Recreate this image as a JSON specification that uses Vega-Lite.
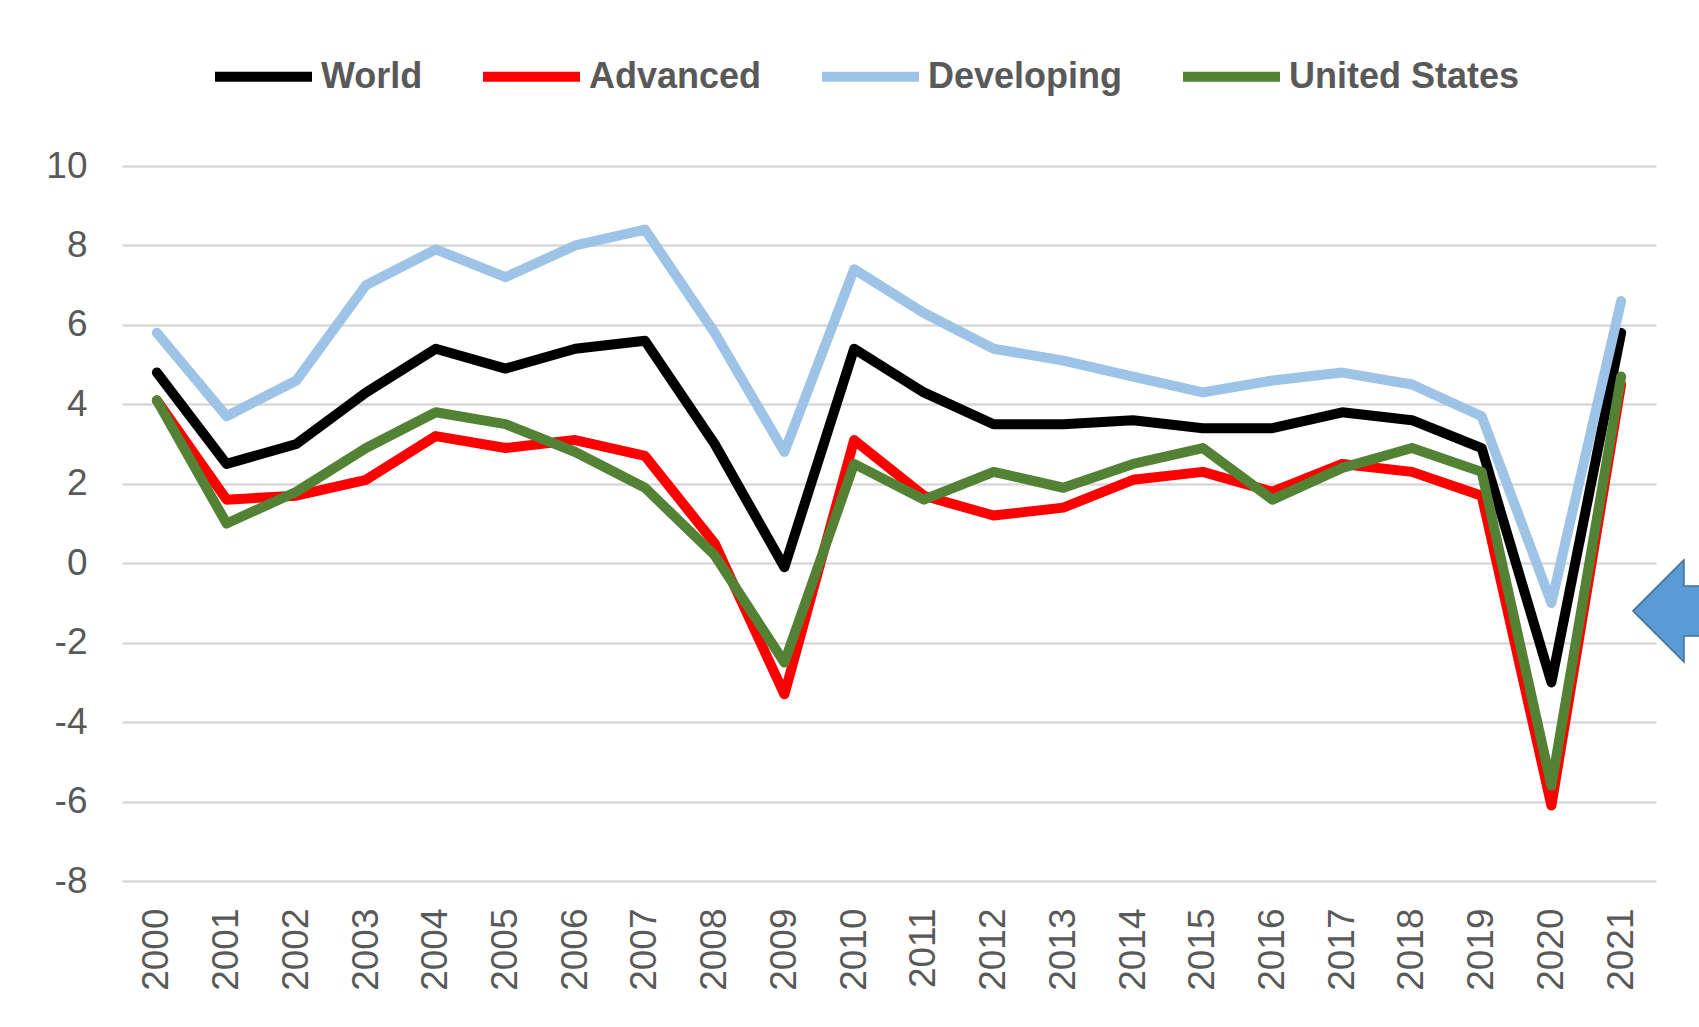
{
  "$schema": "https://vega.github.io/schema/vega-lite/v6.json",
  "width": 1534,
  "height": 715,
  "autosize": "none",
  "padding": {"left": 122, "top": 166, "right": 43, "bottom": 146},
  "background": "white",
  "config": {
    "view": {"stroke": null},
    "font": "Liberation Sans",
    "axis": {"labelColor": "#595959", "labelFont": "Liberation Sans", "labelFontSize": 37, "domain": false, "ticks": false, "title": null}
  },
  "datasets": {
    "growth": [
      {"year": 2000, "series": "World", "value": 4.8},
      {"year": 2001, "series": "World", "value": 2.5},
      {"year": 2002, "series": "World", "value": 3.0},
      {"year": 2003, "series": "World", "value": 4.3},
      {"year": 2004, "series": "World", "value": 5.4},
      {"year": 2005, "series": "World", "value": 4.9},
      {"year": 2006, "series": "World", "value": 5.4},
      {"year": 2007, "series": "World", "value": 5.6},
      {"year": 2008, "series": "World", "value": 3.0},
      {"year": 2009, "series": "World", "value": -0.1},
      {"year": 2010, "series": "World", "value": 5.4},
      {"year": 2011, "series": "World", "value": 4.3},
      {"year": 2012, "series": "World", "value": 3.5},
      {"year": 2013, "series": "World", "value": 3.5},
      {"year": 2014, "series": "World", "value": 3.6},
      {"year": 2015, "series": "World", "value": 3.4},
      {"year": 2016, "series": "World", "value": 3.4},
      {"year": 2017, "series": "World", "value": 3.8},
      {"year": 2018, "series": "World", "value": 3.6},
      {"year": 2019, "series": "World", "value": 2.9},
      {"year": 2020, "series": "World", "value": -3.0},
      {"year": 2021, "series": "World", "value": 5.8},
      {"year": 2000, "series": "Advanced", "value": 4.1},
      {"year": 2001, "series": "Advanced", "value": 1.6},
      {"year": 2002, "series": "Advanced", "value": 1.7},
      {"year": 2003, "series": "Advanced", "value": 2.1},
      {"year": 2004, "series": "Advanced", "value": 3.2},
      {"year": 2005, "series": "Advanced", "value": 2.9},
      {"year": 2006, "series": "Advanced", "value": 3.1},
      {"year": 2007, "series": "Advanced", "value": 2.7},
      {"year": 2008, "series": "Advanced", "value": 0.5},
      {"year": 2009, "series": "Advanced", "value": -3.3},
      {"year": 2010, "series": "Advanced", "value": 3.1},
      {"year": 2011, "series": "Advanced", "value": 1.7},
      {"year": 2012, "series": "Advanced", "value": 1.2},
      {"year": 2013, "series": "Advanced", "value": 1.4},
      {"year": 2014, "series": "Advanced", "value": 2.1},
      {"year": 2015, "series": "Advanced", "value": 2.3},
      {"year": 2016, "series": "Advanced", "value": 1.8},
      {"year": 2017, "series": "Advanced", "value": 2.5},
      {"year": 2018, "series": "Advanced", "value": 2.3},
      {"year": 2019, "series": "Advanced", "value": 1.7},
      {"year": 2020, "series": "Advanced", "value": -6.1},
      {"year": 2021, "series": "Advanced", "value": 4.5},
      {"year": 2000, "series": "Developing", "value": 5.8},
      {"year": 2001, "series": "Developing", "value": 3.7},
      {"year": 2002, "series": "Developing", "value": 4.6},
      {"year": 2003, "series": "Developing", "value": 7.0},
      {"year": 2004, "series": "Developing", "value": 7.9},
      {"year": 2005, "series": "Developing", "value": 7.2},
      {"year": 2006, "series": "Developing", "value": 8.0},
      {"year": 2007, "series": "Developing", "value": 8.4},
      {"year": 2008, "series": "Developing", "value": 5.8},
      {"year": 2009, "series": "Developing", "value": 2.8},
      {"year": 2010, "series": "Developing", "value": 7.4},
      {"year": 2011, "series": "Developing", "value": 6.3},
      {"year": 2012, "series": "Developing", "value": 5.4},
      {"year": 2013, "series": "Developing", "value": 5.1},
      {"year": 2014, "series": "Developing", "value": 4.7},
      {"year": 2015, "series": "Developing", "value": 4.3},
      {"year": 2016, "series": "Developing", "value": 4.6},
      {"year": 2017, "series": "Developing", "value": 4.8},
      {"year": 2018, "series": "Developing", "value": 4.5},
      {"year": 2019, "series": "Developing", "value": 3.7},
      {"year": 2020, "series": "Developing", "value": -1.0},
      {"year": 2021, "series": "Developing", "value": 6.6},
      {"year": 2000, "series": "United States", "value": 4.1},
      {"year": 2001, "series": "United States", "value": 1.0},
      {"year": 2002, "series": "United States", "value": 1.8},
      {"year": 2003, "series": "United States", "value": 2.9},
      {"year": 2004, "series": "United States", "value": 3.8},
      {"year": 2005, "series": "United States", "value": 3.5},
      {"year": 2006, "series": "United States", "value": 2.8},
      {"year": 2007, "series": "United States", "value": 1.9},
      {"year": 2008, "series": "United States", "value": 0.2},
      {"year": 2009, "series": "United States", "value": -2.5},
      {"year": 2010, "series": "United States", "value": 2.5},
      {"year": 2011, "series": "United States", "value": 1.6},
      {"year": 2012, "series": "United States", "value": 2.3},
      {"year": 2013, "series": "United States", "value": 1.9},
      {"year": 2014, "series": "United States", "value": 2.5},
      {"year": 2015, "series": "United States", "value": 2.9},
      {"year": 2016, "series": "United States", "value": 1.6},
      {"year": 2017, "series": "United States", "value": 2.4},
      {"year": 2018, "series": "United States", "value": 2.9},
      {"year": 2019, "series": "United States", "value": 2.3},
      {"year": 2020, "series": "United States", "value": -5.6},
      {"year": 2021, "series": "United States", "value": 4.7}
    ],
    "annotation": [
      {"year": 2021.17, "value": -1.2}
    ]
  },
  "layer": [
    {
      "data": {"name": "growth"},
      "mark": {"type": "line", "strokeWidth": 10, "strokeJoin": "round", "strokeCap": "round"},
      "encoding": {
        "x": {
          "field": "year", "type": "quantitative",
          "scale": {"domain": [1999.5, 2021.5], "nice": false, "zero": false},
          "axis": {
            "values": [2000, 2001, 2002, 2003, 2004, 2005, 2006, 2007, 2008, 2009, 2010, 2011, 2012, 2013, 2014, 2015, 2016, 2017, 2018, 2019, 2020, 2021],
            "format": "d", "labelAngle": -90, "grid": false, "labelPadding": 27, "labelFlush": false, "labelOverlap": false
          }
        },
        "y": {
          "field": "value", "type": "quantitative",
          "scale": {"domain": [-8, 10], "nice": false},
          "axis": {
            "values": [-8, -6, -4, -2, 0, 2, 4, 6, 8, 10],
            "labelExpr": "datum.value + ''",
            "grid": true, "gridColor": "#d9d9d9", "gridWidth": 2.5, "labelPadding": 35
          }
        },
        "color": {
          "field": "series", "type": "nominal",
          "scale": {
            "domain": ["World", "Advanced", "Developing", "United States"],
            "range": ["#000000", "#ff0000", "#9dc3e6", "#548235"]
          },
          "legend": {
            "title": null,
            "orient": "none",
            "direction": "horizontal",
            "legendX": 88,
            "legendY": -143,
            "symbolType": "stroke",
            "symbolSize": 9409,
            "symbolStrokeWidth": 10,
            "labelFont": "Liberation Sans",
            "labelFontWeight": "bold",
            "labelFontSize": 36,
            "labelColor": "#595959",
            "labelOffset": 4,
            "columnPadding": 40,
            "labelLimit": 400
          }
        }
      }
    },
    {
      "data": {"name": "annotation"},
      "mark": {
        "type": "point",
        "shape": "M0,0L1,-1L1,-0.49L3,-0.49L3,0.49L1,0.49L1,1Z",
        "size": 10404,
        "filled": true,
        "fill": "#5b9bd5",
        "stroke": "#41719c",
        "strokeWidth": 1.5,
        "opacity": 1
      },
      "encoding": {
        "x": {"field": "year", "type": "quantitative"},
        "y": {"field": "value", "type": "quantitative"}
      }
    }
  ]
}
